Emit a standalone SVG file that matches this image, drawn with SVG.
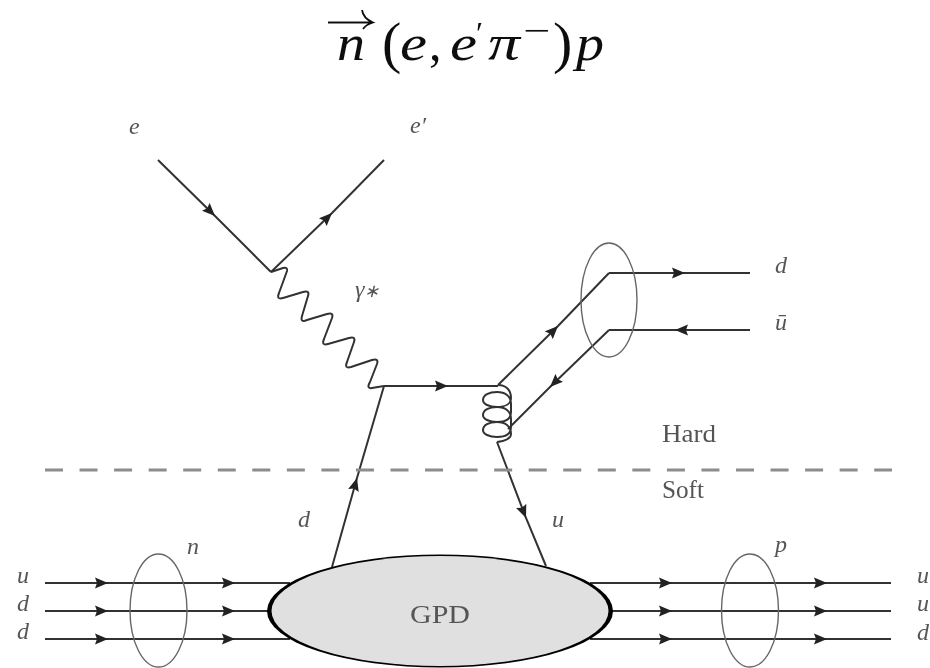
<svg xmlns="http://www.w3.org/2000/svg" width="930" height="668" viewBox="0 0 930 668">
<style>
.l{fill:none;stroke:#333;stroke-width:2;marker-mid:url(#a)}
.p{fill:none;stroke:#333;stroke-width:2;stroke-linejoin:round}
.o{fill:none;stroke:#666;stroke-width:1.4}
.t{font-family:"Liberation Serif",serif;font-style:italic;font-size:24px;fill:#555}
.r{font-family:"Liberation Serif",serif;font-size:25px;fill:#555}
.h{font-family:"Liberation Serif",serif;font-style:italic;font-size:50px;fill:#111}
.u{font-style:normal}
</style>
<defs>
<marker id="a" markerUnits="userSpaceOnUse" markerWidth="14" markerHeight="12" refX="13" refY="6" orient="auto"><path d="M0,0.5L13,6L0,11.5L2,6Z" fill="#222"/></marker>
<filter id="b" x="0" y="0" width="100%" height="100%"><feGaussianBlur stdDeviation="0.5"/></filter>
</defs>
<rect width="930" height="668" fill="#fff"/>
<g filter="url(#b)">
<g id="title">
<text class="h" x="337" y="60" textLength="28" lengthAdjust="spacingAndGlyphs">n</text>
<path d="M328,22.5H373M362,10C363,17 367,20 373,22.5C368,24 365,26 363,29" fill="none" stroke="#111" stroke-width="1.8"/>
<text class="h u" x="382" y="62" style="font-size:58px">(</text>
<text class="h" x="400" y="60" textLength="27" lengthAdjust="spacingAndGlyphs">e</text>
<text class="h u" x="429" y="60">,</text>
<text class="h" x="450" y="60" textLength="27" lengthAdjust="spacingAndGlyphs">e</text>
<text class="h u" x="476" y="44" style="font-size:32px">′</text>
<text class="h" x="488" y="60" textLength="32" lengthAdjust="spacingAndGlyphs">π</text>
<text class="h u" x="523" y="42" style="font-size:34px" textLength="27" lengthAdjust="spacingAndGlyphs">−</text>
<text class="h u" x="553" y="62" style="font-size:58px">)</text>
<text class="h" x="576" y="60" textLength="28" lengthAdjust="spacingAndGlyphs">p</text>
</g>
<g id="connectors">
<path class="l" d="M158,160L215,216L271,272"/>
<path class="l" d="M271,272L332,213L384,160"/>
<path class="p" d="M271,272L283,268Q288,267 287,271L279,293Q276,300 283,298L303,292Q310,290 308,296L302,316Q300,323 307,320L327,314Q334,312 332,318L324,339Q321,346 328,344L349,338Q356,336 354,342L347,362Q344,369 351,367L372,360Q379,358 377,364L370,382Q366,389 372,388L384,386"/>
<path class="l" d="M332,567L357,478L384,386"/>
<path class="l" d="M384,386L448,386L498,386"/>
<path class="l" d="M498,385L558,326L609,273"/>
<path class="l" d="M609,273L685,273L750,273"/>
<path class="l" d="M750,330L675,330L609,330"/>
<path class="l" d="M609,330L550,387L508,429"/>
<path class="p" d="M498,385C506,385 511,390 511,398C511,404 505,407 497,407C489,407 483,404 483,400C483,395 489,392 497,392C505,392 511,396 511,404L511,412C511,419 505,422 497,422C489,422 483,419 483,415C483,410 489,407 497,407C505,407 511,411 511,419L511,427C511,434 505,437 497,437C489,437 483,434 483,430C483,425 489,422 497,422C505,422 511,426 511,434C511,439 505,441 497,442"/>
<path class="l" d="M497,442L526,518L546,566"/>
<path class="l" d="M45,583L108,583L235,583L290,583"/>
<path class="l" d="M45,611L108,611L235,611L275,611"/>
<path class="l" d="M45,639L108,639L235,639L290,639"/>
<path class="l" d="M590,583L672,583L827,583L891,583"/>
<path class="l" d="M605,611L672,611L827,611L891,611"/>
<path class="l" d="M590,639L672,639L827,639L891,639"/>
<path d="M45,470H892" fill="none" stroke="#8c8c8c" stroke-width="3" stroke-dasharray="18 16.55"/>
</g>
<g id="gpd">
<ellipse cx="440" cy="611" rx="173" ry="56.5" fill="#000"/>
<ellipse cx="440" cy="611" rx="168.5" ry="55" fill="#e0e0e0"/>
<text class="r" x="440" y="623" text-anchor="middle" textLength="60" lengthAdjust="spacingAndGlyphs">GPD</text>
</g>
<g id="n-state"><ellipse class="o" cx="158.5" cy="610.5" rx="28.5" ry="56.5"/><text class="t" x="187" y="554">n</text></g>
<g id="p-state"><ellipse class="o" cx="750" cy="610.5" rx="28.5" ry="56.5"/><text class="t" x="775" y="552">p</text></g>
<g id="pion"><ellipse class="o" cx="609" cy="300" rx="28" ry="57"/></g>
<g id="labels">
<text class="t" x="129" y="134">e</text>
<text class="t" x="410" y="133">e′</text>
<text class="t" x="355" y="297">γ<tspan style="font-size:18px">∗</tspan></text>
<text class="t" x="775" y="273">d</text>
<text class="t" x="775" y="330">ū</text>
<text class="r" x="662" y="442" textLength="54" lengthAdjust="spacingAndGlyphs">Hard</text>
<text class="r" x="662" y="498" textLength="42" lengthAdjust="spacingAndGlyphs">Soft</text>
<text class="t" x="298" y="527">d</text>
<text class="t" x="552" y="527">u</text>
<text class="t" x="17" y="583">u</text>
<text class="t" x="17" y="611">d</text>
<text class="t" x="17" y="639">d</text>
<text class="t" x="917" y="583">u</text>
<text class="t" x="917" y="611">u</text>
<text class="t" x="917" y="640">d</text>
</g>
</g>
</svg>
